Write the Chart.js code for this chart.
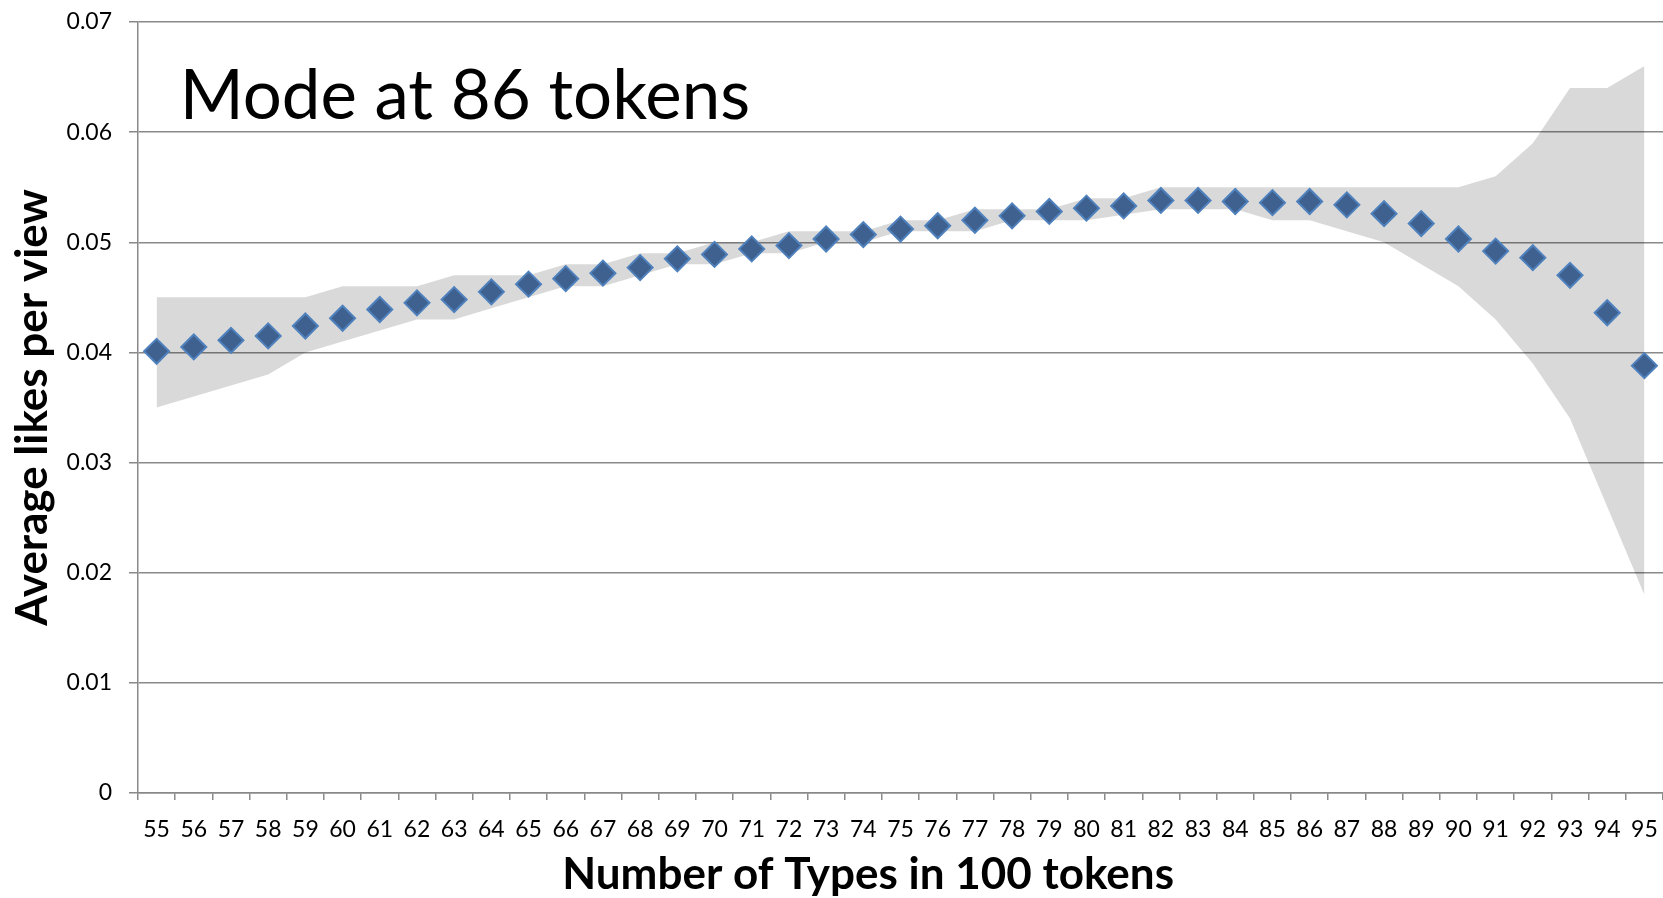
<!DOCTYPE html>
<html lang="en">
<head>
    <meta charset="UTF-8">
    <title>Average likes per view</title>
    <script src="https://cdn.jsdelivr.net/npm/chart.js"></script>
    <style>
        html, body { margin: 0; padding: 0; background: #fff; overflow: hidden; }
        .chartbox { width: 1663px; height: 898px; }
    </style>
</head>
<body>
    <div class="chartbox"><canvas id="typesChart"></canvas></div>
    <script>
        // Number of types in 100 tokens
        var types = ['55', '56', '57', '58', '59', '60', '61', '62', '63', '64',
                     '65', '66', '67', '68', '69', '70', '71', '72', '73', '74',
                     '75', '76', '77', '78', '79', '80', '81', '82', '83', '84',
                     '85', '86', '87', '88', '89', '90', '91', '92', '93', '94', '95'];

        // average likes per view (the diamonds)
        var avgLikes = [0.0401, 0.0405, 0.0411, 0.0415, 0.0424, 0.0431, 0.0439, 0.0445, 0.0448, 0.0455,
                        0.0462, 0.0467, 0.0472, 0.0477, 0.0485, 0.0489, 0.0494, 0.0497, 0.0503, 0.0507,
                        0.0512, 0.0515, 0.0520, 0.0524, 0.0528, 0.0531, 0.0533, 0.0538, 0.0538, 0.0537,
                        0.0536, 0.0537, 0.0534, 0.0526, 0.0517, 0.0503, 0.0492, 0.0486, 0.0470, 0.0436, 0.0388];

        // grey band, upper and lower edge
        var bandHigh = [0.045, 0.045, 0.045, 0.045, 0.045, 0.046, 0.046, 0.046, 0.047, 0.047,
                        0.047, 0.048, 0.048, 0.049, 0.049, 0.050, 0.050, 0.051, 0.051, 0.051,
                        0.052, 0.052, 0.053, 0.053, 0.053, 0.054, 0.054, 0.055, 0.055, 0.055,
                        0.055, 0.055, 0.055, 0.055, 0.055, 0.055, 0.056, 0.059, 0.064, 0.064, 0.066];
        var bandLow = [0.035, 0.036, 0.037, 0.038, 0.040, 0.041, 0.042, 0.043, 0.043, 0.044,
                       0.045, 0.046, 0.046, 0.047, 0.048, 0.048, 0.049, 0.049, 0.050, 0.050,
                       0.051, 0.051, 0.051, 0.052, 0.052, 0.052, 0.0525, 0.053, 0.053, 0.053,
                       0.052, 0.052, 0.051, 0.050, 0.048, 0.046, 0.043, 0.039, 0.034, 0.026, 0.018];

        var yTickLabels = ['0', '0.01', '0.02', '0.03', '0.04', '0.05', '0.06', '0.07'];
        var noteText = 'Mode at 86 tokens';
        var xTitle = 'Number of Types in 100 tokens';
        var yTitle = 'Average likes per view';

        var gridGrey = '#898989';

        // big note inside the plot + the x axis title (sits a bit left of centre)
        var textBits = {
            id: 'textBits',
            afterDraw: function (chart) {
                var ctx = chart.ctx;
                var xs = chart.scales.x, ys = chart.scales.y;
                ctx.save();
                ctx.fillStyle = '#000';
                ctx.textBaseline = 'alphabetic';

                ctx.font = '69px Lato';
                ctx.textAlign = 'left';
                ctx.fillText(noteText, xs.getPixelForValue(0.62), ys.getPixelForValue(0.0612));

                ctx.font = 'bold 44px Lato';
                ctx.textAlign = 'center';
                ctx.fillText(xTitle, xs.getPixelForValue(19.13), chart.height - 9);
                ctx.restore();
            }
        };

        var ctx = document.getElementById('typesChart').getContext('2d');
        var chart = new Chart(ctx, {
            type: 'line',
            data: {
                labels: types,
                datasets: [{
                    label: 'Average likes per view',
                    data: avgLikes,
                    showLine: false,
                    pointStyle: 'rectRot',
                    pointRadius: 12.5,
                    pointBackgroundColor: '#3f6190',
                    pointBorderColor: '#4f81bd',
                    pointBorderWidth: 2,
                    order: 0
                }, {
                    label: 'upper',
                    data: bandHigh,
                    borderWidth: 0,
                    pointRadius: 0,
                    backgroundColor: 'rgba(0, 0, 0, 0.15)',
                    fill: '+1',
                    order: 1
                }, {
                    label: 'lower',
                    data: bandLow,
                    borderWidth: 0,
                    pointRadius: 0,
                    fill: false,
                    order: 2
                }]
            },
            options: {
                responsive: true,
                maintainAspectRatio: false,
                animation: false,
                layout: { autoPadding: false, padding: { top: 22, left: 0, right: 0, bottom: 0 } },
                plugins: {
                    legend: { display: false },
                    tooltip: { enabled: false }
                },
                scales: {
                    x: {
                        offset: true,
                        grid: {
                            offset: true,
                            drawOnChartArea: false,
                            color: gridGrey,
                            lineWidth: 1.5,
                            tickLength: 7
                        },
                        border: { color: gridGrey, width: 1.5 },
                        ticks: {
                            color: '#000',
                            font: { family: 'Lato', size: 23, lineHeight: '60px' },
                            padding: 0,
                            autoSkip: false,
                            maxRotation: 0
                        },
                        afterFit: function (scale) { scale.height = 105; }
                    },
                    y: {
                        min: 0,
                        max: 0.07,
                        grid: {
                            color: gridGrey,
                            lineWidth: 1.5,
                            tickLength: 9
                        },
                        border: { color: gridGrey, width: 1.5 },
                        ticks: {
                            stepSize: 0.01,
                            color: '#000',
                            font: { family: 'Lato', size: 23, lineHeight: 0.4 },
                            padding: 17,
                            callback: function (v, i) { return yTickLabels[i]; }
                        },
                        title: {
                            display: true,
                            text: yTitle,
                            color: '#000',
                            font: { family: 'Lato', size: 44, weight: 'bold' },
                            padding: { top: 6, bottom: 0 }
                        },
                        afterFit: function (scale) { scale.width = 138; }
                    }
                }
            },
            plugins: [textBits]
        });
    </script>
</body>
</html>
